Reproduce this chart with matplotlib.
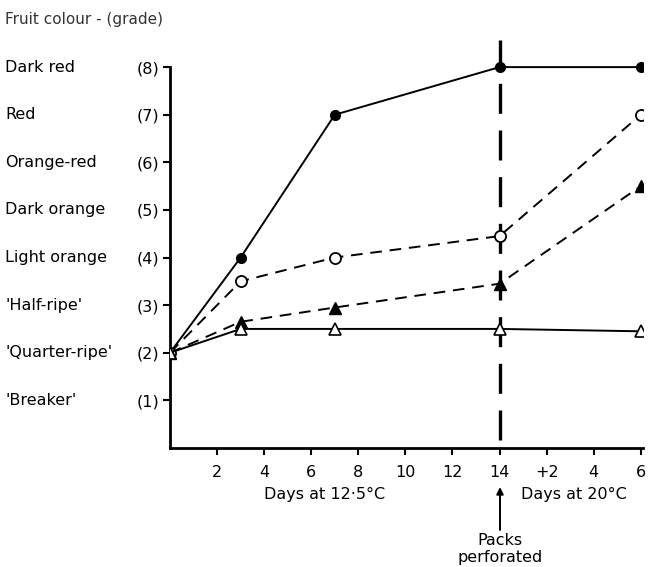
import matplotlib
matplotlib.use('Agg')
import matplotlib.pyplot as plt
from matplotlib.transforms import blended_transform_factory

days = [0, 3, 7, 14, 20]
closed_circle = [2, 4, 7, 8, 8]
open_circle = [2, 3.5, 4, 4.45, 7]
closed_triangle = [2, 2.65, 2.95, 3.45, 5.5]
open_triangle = [2, 2.5, 2.5, 2.5, 2.45]

grades = [1, 2, 3, 4, 5, 6, 7, 8]
grade_names = ["'Breaker'", "'Quarter-ripe'", "'Half-ripe'", "Light orange",
               "Dark orange", "Orange-red", "Red", "Dark red"]
xticks = [2, 4, 6, 8, 10, 12, 14, 16, 18, 20]
xtick_labels = ['2', '4', '6', '8', '10', '12', '14', '+2', '4', '6']
perforation_day = 14

plt.rcParams['font.family'] = 'DejaVu Sans'
fs = 11.5

fig = plt.figure(figsize=(6.49, 5.67), dpi=100)
ax = fig.add_axes([0.262, 0.21, 0.729, 0.7195])
ax.set_xlim(0, 20.1)
ax.set_ylim(0, 8.57)

ax.plot(days, closed_circle, '-', color='black', lw=1.4,
        marker='o', ms=7, mfc='black', mec='black', zorder=3)
ax.plot(days, open_circle, '--', color='black', lw=1.4, dashes=(6, 4),
        marker='o', ms=8, mfc='white', mec='black', mew=1.3, zorder=3)
ax.plot(days, closed_triangle, '--', color='black', lw=1.4, dashes=(6, 4),
        marker='^', ms=8, mfc='black', mec='black', zorder=3)
ax.plot(days, open_triangle, '-', color='black', lw=1.4,
        marker='^', ms=8, mfc='white', mec='black', mew=1.2, zorder=3)

# packs were perforated after 14 days
ax.axvline(perforation_day, ymin=0.02, ymax=1.0, color='black', lw=2.4,
           dashes=(9, 5), zorder=2)

for side in ('top', 'right'):
    ax.spines[side].set_visible(False)
ax.spines['left'].set_bounds(0, 8)
ax.spines['left'].set_linewidth(2)
ax.spines['bottom'].set_linewidth(2)

ax.set_yticks(grades)
ax.set_yticklabels(['({})'.format(g) for g in grades], fontsize=fs)
ax.set_xticks(xticks)
ax.set_xticklabels(xtick_labels, fontsize=fs)
ax.tick_params(axis='both', length=5, width=1.5, direction='out')
ax.tick_params(axis='y', pad=3)
ax.tick_params(axis='x', pad=7)

name_trans = blended_transform_factory(fig.transFigure, ax.transData)
for g, name in zip(grades, grade_names):
    ax.text(0.008, g, name, transform=name_trans, fontsize=fs,
            va='center', ha='left')

fig.text(0.008, 0.965, 'Fruit colour - (grade)', fontsize=11, va='center',
         color='#333333')
fig.text(0.5, 0.127, 'Days at 12·5°C', fontsize=fs, ha='center', va='center')
fig.text(0.885, 0.127, 'Days at 20°C', fontsize=fs, ha='center', va='center')

ax.annotate('', xy=(500, 80), xycoords='figure pixels',
            xytext=(500, 37), textcoords='figure pixels',
            arrowprops=dict(arrowstyle='-|>', color='black', lw=1.4,
                            shrinkA=0, shrinkB=0, mutation_scale=10))
fig.text(500 / 649, 34 / 567, 'Packs\nperforated', fontsize=fs, ha='center',
         va='top', linespacing=1.15)

fig.savefig('out.png', dpi=100)
